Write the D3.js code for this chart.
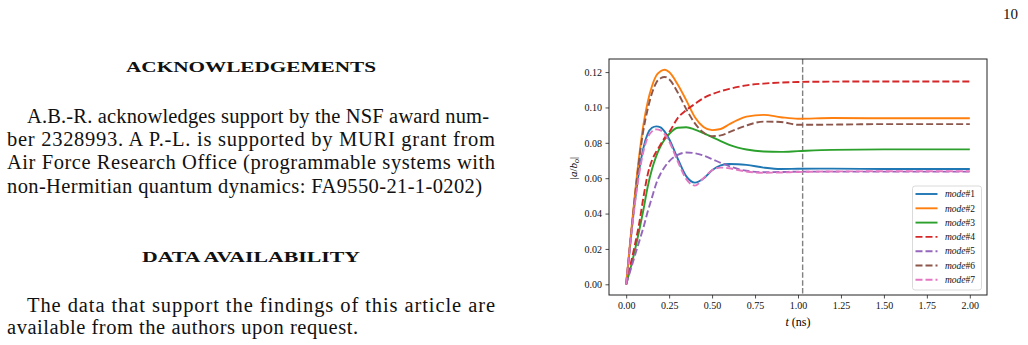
<!DOCTYPE html>
<html>
<head>
<meta charset="utf-8">
<script src="https://cdn.jsdelivr.net/npm/d3@7"></script>
<style>
  html, body { margin: 0; padding: 0; background: #fff; }
  svg { display: block; }
</style>
</head>
<body>
<div id="page"></div>
<script>
// time samples (ns) shared by every mode
const times = [0, 0.025, 0.05, 0.075, 0.1, 0.125, 0.15, 0.175, 0.2, 0.225, 0.25, 0.3, 0.35, 0.4, 0.45, 0.5, 0.55, 0.6, 0.65, 0.7, 0.8, 0.9, 1.0, 1.2, 1.5, 2.0];

// |a/b_o| per mode
const mode1 = [0, 0.024, 0.046, 0.064, 0.077, 0.085, 0.0885, 0.0893, 0.0888, 0.0862, 0.0822, 0.0710, 0.0610, 0.0575, 0.0598, 0.0645, 0.0672, 0.0680, 0.0679, 0.0675, 0.0660, 0.0652, 0.0653, 0.0654, 0.0652, 0.0652];
const mode2 = [0, 0.026, 0.050, 0.072, 0.090, 0.103, 0.112, 0.118, 0.1205, 0.1213, 0.1200, 0.1130, 0.1040, 0.0945, 0.0890, 0.0872, 0.0878, 0.0905, 0.0930, 0.0948, 0.0958, 0.0945, 0.0936, 0.0940, 0.0939, 0.0939];
const mode3 = [0, 0.009, 0.019, 0.030, 0.042, 0.055, 0.065, 0.0725, 0.078, 0.082, 0.085, 0.0885, 0.0888, 0.0875, 0.0855, 0.0832, 0.0810, 0.0788, 0.0773, 0.0762, 0.0751, 0.0749, 0.0753, 0.0760, 0.0763, 0.0763];
const mode4 = [0, 0.011, 0.022, 0.034, 0.049, 0.062, 0.070, 0.075, 0.079, 0.083, 0.086, 0.094, 0.0985, 0.102, 0.1053, 0.1075, 0.1092, 0.1105, 0.1116, 0.1125, 0.1135, 0.1141, 0.1144, 0.1146, 0.1147, 0.1147];
const mode5 = [0, 0.008, 0.016, 0.024, 0.032, 0.041, 0.049, 0.057, 0.0625, 0.0665, 0.0695, 0.0732, 0.0745, 0.0741, 0.0728, 0.0708, 0.0687, 0.0668, 0.0652, 0.0642, 0.0634, 0.0635, 0.0637, 0.0637, 0.0637, 0.0637];
const mode6 = [0, 0.025, 0.049, 0.070, 0.087, 0.099, 0.108, 0.114, 0.1165, 0.1172, 0.1160, 0.1085, 0.0990, 0.0910, 0.0858, 0.0838, 0.0842, 0.0860, 0.0880, 0.0898, 0.0920, 0.0918, 0.0902, 0.0903, 0.0906, 0.0906];
const mode7 = [0, 0.024, 0.045, 0.062, 0.075, 0.083, 0.0865, 0.0876, 0.0870, 0.0848, 0.0808, 0.0695, 0.0595, 0.0558, 0.0600, 0.0645, 0.0660, 0.0656, 0.0646, 0.0638, 0.0631, 0.0632, 0.0635, 0.0638, 0.0639, 0.0639];

const modeNames = ['#1', '#2', '#3', '#4', '#5', '#6', '#7'];
const modeValues = [mode1, mode2, mode3, mode4, mode5, mode6, mode7];
const modeColors = ['#1f77b4', '#ff7f0e', '#2ca02c', '#d62728', '#9467bd', '#8c564b', '#e377c2'];
const modeDashed = [false, false, false, true, true, true, true];

const xTicks = [0, 0.25, 0.5, 0.75, 1.0, 1.25, 1.5, 1.75, 2.0];
const yTicks = [0, 0.02, 0.04, 0.06, 0.08, 0.10, 0.12];
const markerTime = 1.027;

// text of the page beside the figure
const ackLines = [
  'A.B.-R. acknowledges support by the NSF award num-',
  'ber 2328993.  A P.-L. is supported by MURI grant from',
  'Air Force Research Office (programmable systems with',
  'non-Hermitian quantum dynamics: FA9550-21-1-0202)'
];
const dataLines = [
  'The data that support the findings of this article are',
  'available from the authors upon request.'
];

const W = 1028, H = 345;
const svg = d3.select('#page').append('svg')
  .attr('width', W)
  .attr('height', H);

// ---- left column text ----
const serif = "'Liberation Serif', 'Times New Roman', serif";
const textG = svg.append('g').style('font-family', serif).attr('fill', '#111');

textG.append('text')
  .attr('x', 1003).attr('y', 19)
  .attr('font-size', 15)
  .text('10');

textG.append('text')
  .attr('x', 126).attr('y', 72)
  .attr('font-size', 15).attr('font-weight', 'bold')
  .attr('textLength', 250).attr('lengthAdjust', 'spacingAndGlyphs')
  .text('ACKNOWLEDGEMENTS');

const ackX = [27, 7, 7, 7];
const ackW = [462, 488, 488, 475];
ackLines.forEach((s, i) => {
  textG.append('text')
    .attr('x', ackX[i]).attr('y', 123 + i * 23.2)
    .attr('font-size', 20.5)
    .attr('textLength', ackW[i]).attr('lengthAdjust', 'spacing')
    .text(s);
});

textG.append('text')
  .attr('x', 142).attr('y', 262)
  .attr('font-size', 15).attr('font-weight', 'bold')
  .attr('textLength', 218).attr('lengthAdjust', 'spacingAndGlyphs')
  .text('DATA AVAILABILITY');

const dataX = [27, 7];
const dataW = [468, 351];
dataLines.forEach((s, i) => {
  textG.append('text')
    .attr('x', dataX[i]).attr('y', 311.5 + i * 22)
    .attr('font-size', 20.5)
    .attr('textLength', dataW[i]).attr('lengthAdjust', 'spacing')
    .text(s);
});

// ---- figure ----
const plot = { left: 609, right: 987, top: 59, bottom: 295 };

const x = d3.scaleLinear().domain([-0.1, 2.1]).range([plot.left, plot.right]);
const y = d3.scaleLinear().domain([-0.00605, 0.1274]).range([plot.bottom, plot.top]);

const fig = svg.append('g').style('font-family', serif);

// axes
const xAxis = fig.append('g')
  .attr('transform', `translate(0,${plot.bottom})`)
  .call(d3.axisBottom(x).tickValues(xTicks).tickFormat(d3.format('.2f')).tickSizeOuter(0).tickSize(3.5).tickPadding(3.5));
const yAxis = fig.append('g')
  .attr('transform', `translate(${plot.left},0)`)
  .call(d3.axisLeft(y).tickValues(yTicks).tickFormat(d3.format('.2f')).tickSizeOuter(0).tickSize(3.5).tickPadding(3.5));
[xAxis, yAxis].forEach(a => {
  a.select('.domain').remove();
  a.selectAll('.tick line').attr('stroke', '#222').attr('stroke-width', 0.8);
  a.selectAll('.tick text').attr('font-family', serif).attr('font-size', 10).attr('fill', '#111');
});

// marker line
fig.append('line')
  .attr('x1', x(markerTime)).attr('x2', x(markerTime))
  .attr('y1', plot.top).attr('y2', plot.bottom)
  .attr('stroke', '#808080').attr('stroke-width', 1.4)
  .attr('stroke-dasharray', '5.5,2.4');

// curves
const line = d3.line()
  .x(d => x(d[0]))
  .y(d => y(d[1]))
  .curve(d3.curveMonotoneX);

fig.append('clipPath').attr('id', 'clip')
  .append('rect')
  .attr('x', plot.left).attr('y', plot.top)
  .attr('width', plot.right - plot.left).attr('height', plot.bottom - plot.top);

fig.append('g').attr('clip-path', 'url(#clip)')
  .selectAll('path')
  .data(modeValues)
  .join('path')
  .attr('d', vals => line(times.map((t, i) => [t, vals[i]])))
  .attr('fill', 'none')
  .attr('stroke', (d, i) => modeColors[i])
  .attr('stroke-width', 1.9)
  .attr('stroke-dasharray', (d, i) => modeDashed[i] ? '7,3' : null);

// frame
fig.append('rect')
  .attr('x', plot.left).attr('y', plot.top)
  .attr('width', plot.right - plot.left).attr('height', plot.bottom - plot.top)
  .attr('fill', 'none').attr('stroke', '#222').attr('stroke-width', 1);

// axis labels
const xl = fig.append('text')
  .attr('x', (plot.left + plot.right) / 2).attr('y', 326)
  .attr('text-anchor', 'middle').attr('font-size', 12);
xl.append('tspan').attr('font-style', 'italic').text('t');
xl.append('tspan').text(' (ns)');

const yl = fig.append('text')
  .attr('transform', 'translate(577,168) rotate(-90)')
  .attr('text-anchor', 'middle').attr('font-size', 11);
yl.append('tspan').text('|');
yl.append('tspan').attr('font-style', 'italic').text('a');
yl.append('tspan').text('/');
yl.append('tspan').attr('font-style', 'italic').text('b');
yl.append('tspan').attr('font-style', 'italic').attr('font-size', 8).attr('dy', 2).text('o');
yl.append('tspan').attr('dy', -2).text('|');

// legend
const leg = fig.append('g');
leg.append('rect')
  .attr('x', 912.5).attr('y', 186).attr('width', 69).attr('height', 104)
  .attr('rx', 2.5)
  .attr('fill', 'rgba(255,255,255,0.8)').attr('stroke', '#d0d0d0').attr('stroke-width', 0.8);

const rows = leg.selectAll('g.row')
  .data(modeNames)
  .join('g')
  .attr('class', 'row')
  .attr('transform', (d, i) => `translate(0,${194 + i * 14.3})`);
rows.append('line')
  .attr('x1', 915.5).attr('x2', 937.5)
  .attr('stroke', (d, i) => modeColors[i])
  .attr('stroke-width', 1.9)
  .attr('stroke-dasharray', (d, i) => modeDashed[i] ? '7,3' : null);
const lt = rows.append('text')
  .attr('x', 945).attr('y', 3.2)
  .attr('font-size', 9.5).attr('fill', '#111');
lt.append('tspan').attr('font-style', 'italic').text('mode');
lt.append('tspan').text(d => d);
</script>
</body>
</html>
